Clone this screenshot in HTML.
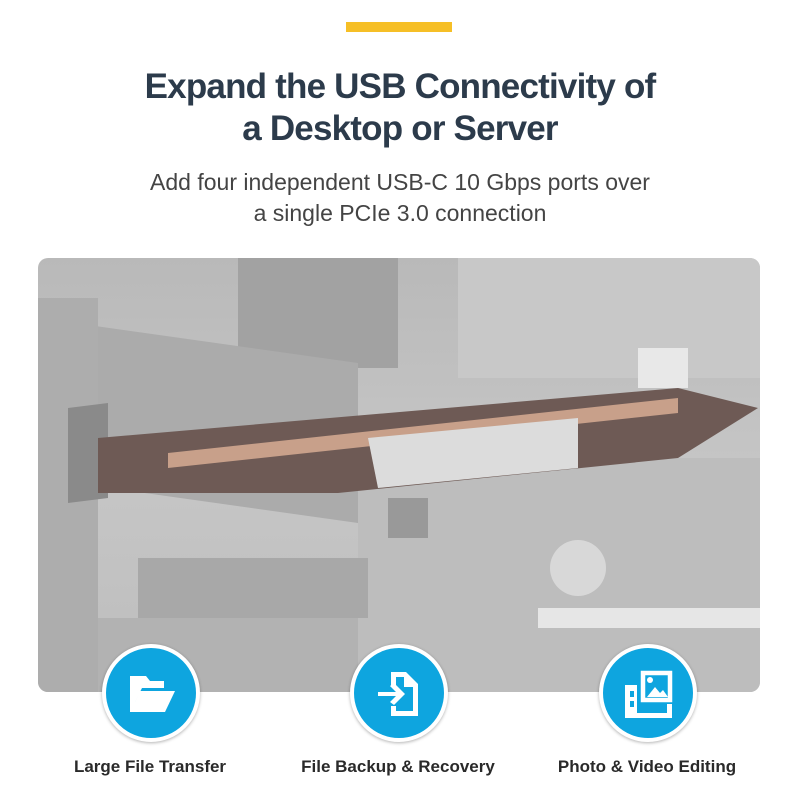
<!DOCTYPE html>
<html><head><style>
body{margin:0;width:800px;height:800px;background:#fff;position:relative;overflow:hidden;font-family:"Liberation Sans",sans-serif}
.bar{position:absolute;left:346px;top:22px;width:106px;height:10px;background:#f6bf26}
h1{position:absolute;top:66px;left:0;width:800px;margin:0;text-align:center;font-size:35px;line-height:42px;color:#2c3b4b;font-weight:bold;letter-spacing:-0.8px}
.sub{position:absolute;top:167px;left:0;width:800px;text-align:center;font-size:23px;line-height:31px;color:#444}
.photo{position:absolute;left:38px;top:258px;width:722px;height:434px;border-radius:10px;overflow:hidden;background:linear-gradient(180deg,#b9b9b9,#c6c6c6 50%,#bdbdbd)}
.c{position:absolute;top:644px;width:90px;height:90px;border-radius:50%;background:#0ea5df;border:4px solid #fff;box-shadow:0 1px 3px rgba(0,0,0,.3)}
.lab{position:absolute;top:757px;width:260px;text-align:center;font-size:17px;font-weight:bold;color:#2a2a2a}
</style></head><body>
<div class="bar"></div>
<h1>Expand the USB Connectivity of<br>a Desktop or Server</h1>
<div class="sub">Add four independent USB-C 10 Gbps ports over<br>a single PCIe 3.0 connection</div>
<div class="photo">
<svg width="722" height="434">
<rect x="0" y="40" width="60" height="394" fill="#adadad"/>
<rect x="200" y="0" width="160" height="110" fill="#a2a2a2"/>
<rect x="420" y="0" width="302" height="120" fill="#c8c8c8"/>
<rect x="60" y="60" width="260" height="160" fill="#ababab" transform="skewY(8)"/>
<rect x="320" y="200" width="402" height="234" fill="#bdbdbd"/>
<polygon points="30,150 70,145 70,240 30,245" fill="#8a8a8a"/>
<polygon points="60,180 640,130 720,150 640,200 300,235 60,235" fill="#6e5a55"/>
<polygon points="130,195 640,140 640,155 130,210" fill="#c8a08a"/>
<polygon points="330,180 540,160 540,210 340,230" fill="#dcdcdc"/>
<rect x="500" y="350" width="222" height="20" fill="#e6e6e6"/>
<circle cx="540" cy="310" r="28" fill="#d8d8d8"/>
<rect x="350" y="240" width="40" height="40" fill="#999"/>
<rect x="600" y="90" width="50" height="40" fill="#e8e8e8"/>
<rect x="100" y="300" width="230" height="60" fill="#a8a8a8"/>
<rect x="60" y="360" width="260" height="74" fill="#b2b2b2"/>
</svg>
</div>
<div class="c" style="left:102px">
<svg width="90" height="90" viewBox="0 0 90 90"><path d="M26 28h14l4 5h14v7H36l-10 20z" fill="#fff"/><path d="M24 64l10-21h35l-10 21z" fill="#fff"/><rect x="24" y="28" width="5" height="36" fill="#fff"/></svg>
</div>
<div class="c" style="left:350px">
<svg width="90" height="90" viewBox="0 0 90 90"><path d="M37 24h15l12 12v32H37v-10h5v5h17V39h-9v-10h-8v10h-5z" fill="#fff"/><path d="M24 44h18l-6-6 4-3 11 11-11 11-4-3 6-6H24z" fill="#fff"/></svg>
</div>
<div class="c" style="left:599px">
<svg width="90" height="90" viewBox="0 0 90 90"><rect x="40" y="25" width="27" height="27" fill="none" stroke="#fff" stroke-width="4.5"/><path d="M44 49l8-10 5 6 3-3 5 7z" fill="#fff"/><circle cx="47" cy="32" r="3" fill="#fff"/><path d="M22 37h12v28h30v-9h5v14H22z" fill="#fff"/><rect x="27" y="43" width="4" height="6" fill="#0ea5df"/><rect x="27" y="53" width="4" height="6" fill="#0ea5df"/></svg>
</div>
<div class="lab" style="left:20px">Large File Transfer</div>
<div class="lab" style="left:268px">File Backup &amp; Recovery</div>
<div class="lab" style="left:517px">Photo &amp; Video Editing</div>
</body></html>
